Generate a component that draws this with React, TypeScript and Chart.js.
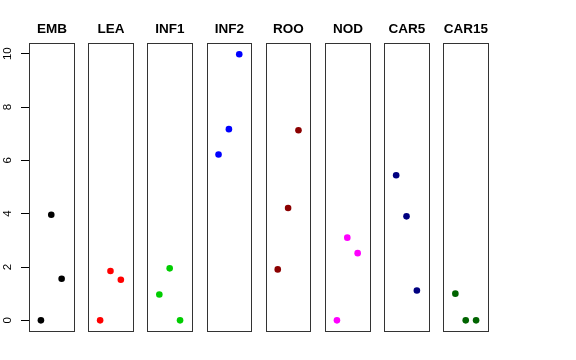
import React, { useEffect, useRef } from "react";
import { Chart, registerables } from "chart.js";

Chart.register(...registerables);

const categories = ["EMB", "LEA", "INF1", "INF2", "ROO", "NOD", "CAR5", "CAR15"];
const emb = [0, 3.96, 1.56];
const lea = [0, 1.85, 1.52];
const inf1 = [0.97, 1.95, 0];
const inf2 = [6.22, 7.17, 9.98];
const roo = [1.91, 4.21, 7.13];
const nod = [0, 3.1, 2.52];
const car5 = [5.44, 3.9, 1.12];
const car15 = [1.0, 0, 0];
const seriesValues = [emb, lea, inf1, inf2, roo, nod, car5, car15];
const colors = ["#000000", "#FF0000", "#00CD00", "#0000FF", "#8B0000", "#FF00FF", "#000080", "#006400"];
const yTicks = [0, 2, 4, 6, 8, 10];

const PANEL_MIN = -0.15;
const PANEL_MAX = 4.15;
const PITCH = 5.715;

export default function App() {
  const ref = useRef<HTMLCanvasElement | null>(null);
  useEffect(() => {
    if (!ref.current) return;
    const datasets = categories.map((c, i) => ({
      label: c,
      data: seriesValues[i].map((v, k) => ({ x: i * PITCH + k + 1, y: v })),
      backgroundColor: colors[i],
      borderColor: colors[i],
      pointRadius: 3.3,
      borderWidth: 0,
    }));
    const panels = {
      id: "panels",
      beforeDatasetsDraw(chart: any) {
        const { ctx, chartArea, scales } = chart;
        const xs = scales.x;
        ctx.save();
        ctx.strokeStyle = "#333333";
        ctx.lineWidth = 1;
        categories.forEach((c, i) => {
          const l = Math.round(xs.getPixelForValue(i * PITCH + PANEL_MIN)) + 0.5;
          const r = Math.round(xs.getPixelForValue(i * PITCH + PANEL_MAX)) + 0.5;
          const t = Math.round(chartArea.top) + 0.5;
          const b = Math.round(chartArea.bottom) + 0.5;
          ctx.strokeRect(l, t, r - l, b - t);
          ctx.fillStyle = "#000";
          ctx.font = "bold 13.5px 'Liberation Sans', Arial, sans-serif";
          ctx.textAlign = "center";
          ctx.textBaseline = "middle";
          ctx.fillText(c, (l + r) / 2, chartArea.top - 14);
        });
        ctx.restore();
      },
    };
    const chart = new Chart(ref.current, {
      type: "scatter",
      data: { datasets },
      options: {
        animation: false,
        responsive: true,
        maintainAspectRatio: false,
        layout: { padding: { left: 0, top: 43, right: 88, bottom: 29 } },
        plugins: { legend: { display: false }, tooltip: { enabled: false }, title: { display: false } },
        scales: {
          x: {
            type: "linear",
            display: false,
            min: PANEL_MIN,
            max: 7 * PITCH + PANEL_MAX,
          },
          y: {
            type: "linear",
            position: "left",
            min: -0.4,
            max: 10.4,
            afterBuildTicks: (s: any) => {
              s.ticks = yTicks.map((v) => ({ value: v }));
            },
            afterFit: (s: any) => {
              s.width = 29;
            },
            border: { display: false },
            grid: { drawOnChartArea: false, tickLength: 8, color: "#000", tickWidth: 1 },
            ticks: {
              minRotation: 90,
              maxRotation: 90,
              crossAlign: "center",
              padding: 7,
              color: "#000",
              font: { family: "'Liberation Sans', Arial, sans-serif", size: 11.5 },
              callback: (v: any) => String(v),
            },
          },
        },
      },
      plugins: [panels],
    });
    return () => chart.destroy();
  }, []);
  return (
    <div style={{ position: "absolute", left: 0, top: 0, width: 576, height: 360, background: "#fff" }}>
      <canvas ref={ref} />
    </div>
  );
}
